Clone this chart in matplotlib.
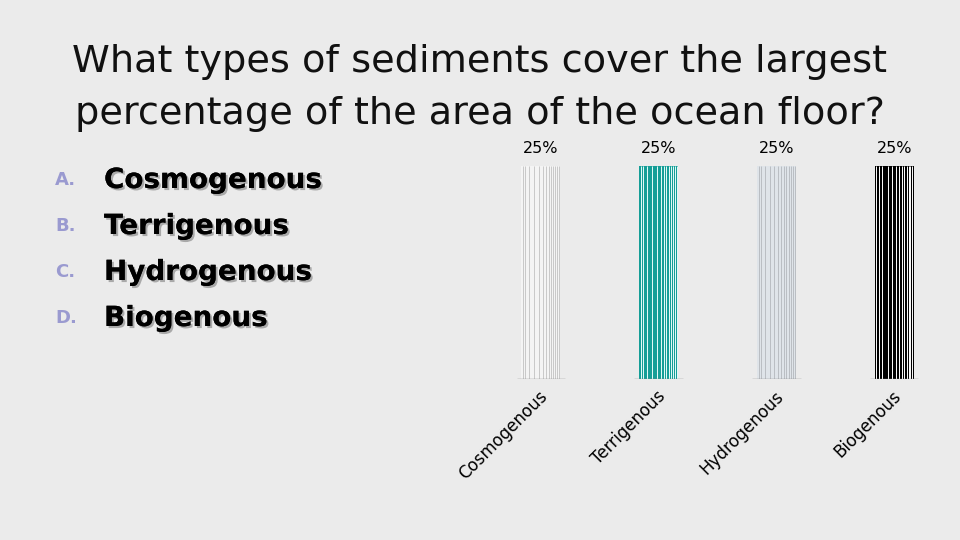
import numpy as np
import matplotlib.pyplot as plt
import matplotlib.patheffects as pe

# ---------- data ----------
categories = ['Cosmogenous', 'Terrigenous', 'Hydrogenous', 'Biogenous']
percents = [25, 25, 25, 25]
letters = ['A.', 'B.', 'C.', 'D.']
title_lines = ['What types of sediments cover the largest',
               'percentage of the area of the ocean floor?']

# ---------- style ----------
bg = '#ebebeb'
bar_colors = ['#f4f4f4', '#159e97', '#dfe4e9', '#000000']
stripe_colors = ['#c8c8c8', '#e8fbfa', '#b9bdc2', '#ffffff']
stripe_pos = [0.04, 0.1, 0.2, 0.33, 0.45, 0.55, 0.63, 0.7, 0.76, 0.82, 0.87, 0.92, 0.97]

fig = plt.figure(figsize=(9.6, 5.4), dpi=100, facecolor=bg)

# title, one text per line
for i, line in enumerate(title_lines):
    fig.text(480 / 960, 1 - (62 + i * 52) / 540, line, ha='center', va='center',
             fontsize=27.5, family='DejaVu Sans', color='#111111')

# answer list
for i, (let, cat) in enumerate(zip(letters, categories)):
    y = 1 - (180 + i * 46) / 540
    fig.text(55 / 960, y, let, ha='left', va='center', fontsize=13,
             fontweight='bold', color='#9a9ad0')
    fig.text(104 / 960, y, cat, ha='left', va='center', fontsize=20,
             fontweight='bold', color='black',
             path_effects=[pe.withSimplePatchShadow(offset=(1.5, -1.5),
                                                    shadow_rgbFace='#999999', alpha=0.8),
                           pe.Normal()])

# ---------- bars ----------
ax = fig.add_axes([482 / 960, 1 - 379 / 540, 471 / 960, 213 / 540])
ax.set_facecolor(bg)
x = np.arange(len(categories))
w = 0.33
bars = ax.bar(x, percents, width=w, color=bar_colors, zorder=2)
for b, sc in zip(bars, stripe_colors):
    x0 = b.get_x()
    for p in stripe_pos:
        ax.vlines(x0 + p * w, 0, b.get_height(), color=sc, lw=0.7, zorder=3)
    ax.hlines(0, b.get_x() - 0.04, b.get_x() + w + 0.04, color='#888888', lw=1, zorder=4)
    ax.text(b.get_x() + w / 2, b.get_height() + 1.2, f'{b.get_height():.0f}%',
            ha='center', va='bottom', fontsize=11.5)

ax.set_xlim(-0.5, 3.5)
ax.set_ylim(0, 25)
ax.set_yticks([])
ax.set_xticks(x - 0.02)
ax.set_xticklabels(categories, rotation=45, ha='right', rotation_mode='anchor',
                   fontsize=12)
ax.tick_params(axis='x', length=0, pad=6)
for s in ax.spines.values():
    s.set_visible(False)

fig.savefig('out.png', dpi=100, facecolor=bg)
